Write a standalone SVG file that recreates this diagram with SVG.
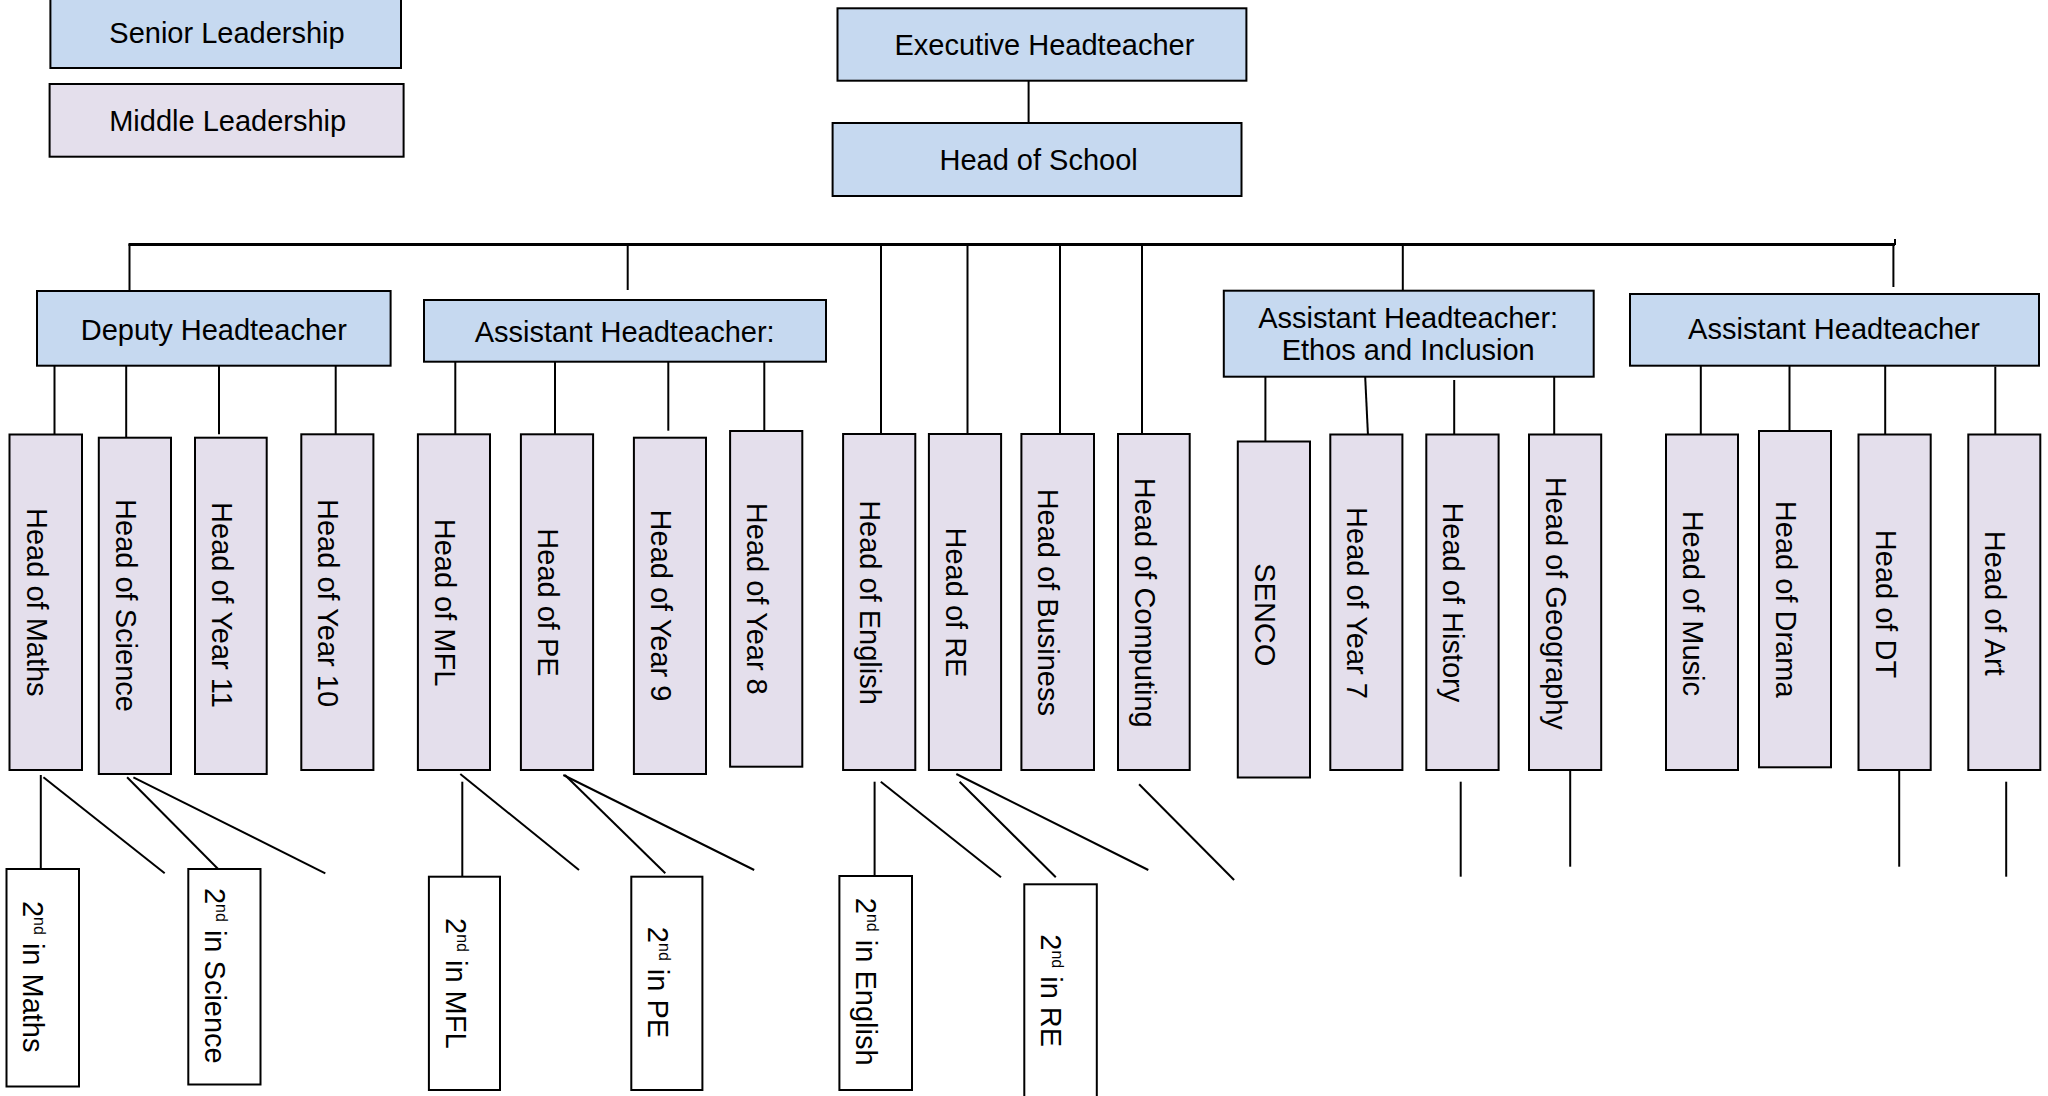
<svg xmlns="http://www.w3.org/2000/svg" width="2048" height="1096" viewBox="0 0 2048 1096">
  <style>
    text { font-family: "Liberation Sans", Arial, sans-serif; font-size: 29px; fill: #000; text-anchor: middle; }
    .senior rect { fill: #c6d9f0; stroke: #000; stroke-width: 2; }
    .middle rect { fill: #e4dfec; stroke: #000; stroke-width: 2; }
    .second rect { fill: #ffffff; stroke: #000; stroke-width: 2; }
    #connectors line, #connectors path { stroke: #000; stroke-width: 2; fill: none; }
    #connectors .bus { stroke-width: 3; }
    .sup { font-size: 16px; }
  </style>
  <rect width="2048" height="1096" fill="#ffffff"/>

  <!-- connectors -->
  <g id="connectors">
    <!-- executive to head of school -->
    <line x1="1028.6" y1="74" x2="1028.6" y2="123"/>
    <!-- main bus -->
    <line class="bus" x1="128.5" y1="244.5" x2="1895" y2="244.5"/>
    <line x1="1895" y1="239" x2="1895" y2="245"/>
    <line x1="129.5" y1="244" x2="129.5" y2="291"/>
    <line x1="627.7" y1="244" x2="627.7" y2="290"/>
    <line x1="881" y1="244" x2="881" y2="434"/>
    <line x1="967.5" y1="244" x2="967.5" y2="434"/>
    <line x1="1060" y1="244" x2="1060" y2="434"/>
    <line x1="1142" y1="244" x2="1142" y2="434"/>
    <line x1="1402.8" y1="244" x2="1402.8" y2="291"/>
    <line x1="1893.4" y1="244" x2="1893.4" y2="287"/>
    <!-- deputy headteacher drops -->
    <line x1="54.5" y1="363" x2="54.5" y2="434.5"/>
    <line x1="126.2" y1="363" x2="126.2" y2="437.7"/>
    <line x1="219" y1="363" x2="219" y2="434.3"/>
    <line x1="335.7" y1="363" x2="335.7" y2="434.3"/>
    <!-- assistant headteacher drops -->
    <line x1="455.3" y1="361" x2="455.3" y2="434.3"/>
    <line x1="555" y1="361" x2="555" y2="434.3"/>
    <line x1="668.3" y1="359" x2="668.3" y2="430.7"/>
    <line x1="764.3" y1="361" x2="764.3" y2="434"/>
    <!-- ethos and inclusion drops -->
    <line x1="1265.4" y1="376.7" x2="1265.4" y2="441.5"/>
    <line x1="1365" y1="373" x2="1368.2" y2="440"/>
    <line x1="1454.2" y1="380" x2="1454.2" y2="434.5"/>
    <line x1="1554.2" y1="369" x2="1554.2" y2="434.5"/>
    <!-- assistant headteacher (right) drops -->
    <line x1="1700.8" y1="362.7" x2="1700.8" y2="434.5"/>
    <line x1="1789.5" y1="359" x2="1789.5" y2="431"/>
    <line x1="1885.2" y1="363" x2="1885.2" y2="434.5"/>
    <line x1="1995.3" y1="366.7" x2="1995.3" y2="437.3"/>
    <!-- second-in-department links -->
    <line x1="40.8" y1="775" x2="40.8" y2="869"/>
    <line x1="43.4" y1="777.3" x2="164.7" y2="873.3"/>
    <line x1="127.1" y1="777.3" x2="222.3" y2="873.3"/>
    <line x1="133.4" y1="777.3" x2="325.3" y2="873.3"/>
    <line x1="462.3" y1="781.7" x2="462.3" y2="876.7"/>
    <line x1="460.3" y1="774" x2="579" y2="870"/>
    <line x1="564.9" y1="775" x2="665.3" y2="873.3"/>
    <line x1="563.3" y1="775" x2="754.2" y2="870"/>
    <line x1="874.6" y1="781.7" x2="874.6" y2="876"/>
    <line x1="880.8" y1="781.7" x2="1001" y2="877.3"/>
    <line x1="959.6" y1="781.7" x2="1055.8" y2="877.3"/>
    <line x1="956.3" y1="774" x2="1148.3" y2="870"/>
    <line x1="1139.1" y1="784.3" x2="1234.1" y2="880"/>
    <line x1="1460.7" y1="781.7" x2="1460.7" y2="876.7"/>
    <line x1="1570.2" y1="770" x2="1570.2" y2="866.7"/>
    <line x1="1899.2" y1="770" x2="1899.2" y2="866.7"/>
    <line x1="2006.2" y1="781.7" x2="2006.2" y2="876.7"/>
  </g>

  <!-- key -->
  <g id="key-senior" class="senior">
    <rect x="50.4" y="-2" width="350.6" height="70"/>
    <text x="227" y="42.7">Senior Leadership</text>
  </g>
  <g id="key-middle" class="middle">
    <rect x="49.6" y="84" width="354" height="72.7"/>
    <text x="227.7" y="131">Middle Leadership</text>
  </g>

  <!-- senior leadership -->
  <g id="executive-headteacher" class="senior">
    <rect x="837.5" y="8.3" width="408.9" height="72.4"/>
    <text x="1044.4" y="55">Executive Headteacher</text>
  </g>
  <g id="head-of-school" class="senior">
    <rect x="832.6" y="123" width="408.9" height="73"/>
    <text x="1038.6" y="170">Head of School</text>
  </g>
  <g id="deputy-headteacher" class="senior">
    <rect x="37" y="291" width="353.6" height="74.7"/>
    <text x="213.8" y="340">Deputy Headteacher</text>
  </g>
  <g id="assistant-headteacher-1" class="senior">
    <rect x="424" y="300" width="402" height="61.7"/>
    <text x="624.7" y="341.7">Assistant Headteacher:</text>
  </g>
  <g id="assistant-headteacher-ethos" class="senior">
    <rect x="1223.8" y="290.7" width="369.9" height="86"/>
    <text x="1408.2" y="328">Assistant Headteacher:</text>
    <text x="1408.2" y="360">Ethos and Inclusion</text>
  </g>
  <g id="assistant-headteacher-2" class="senior">
    <rect x="1630" y="294" width="409" height="71.7"/>
    <text x="1834" y="339">Assistant Headteacher</text>
  </g>

  <!-- middle leadership -->
  <g id="head-of-maths" class="middle">
    <rect x="9.5" y="434.5" width="72.5" height="335.5"/>
    <text transform="translate(26.5,602.3) rotate(90)">Head of Maths</text>
  </g>
  <g id="head-of-science" class="middle">
    <rect x="98.8" y="437.7" width="72.2" height="336.3"/>
    <text transform="translate(115.8,605.5) rotate(90)">Head of Science</text>
  </g>
  <g id="head-of-year-11" class="middle">
    <rect x="195" y="437.7" width="71.7" height="336.3"/>
    <text transform="translate(212,605) rotate(90)">Head of Year 11</text>
  </g>
  <g id="head-of-year-10" class="middle">
    <rect x="301.3" y="434.3" width="72.1" height="335.7"/>
    <text transform="translate(318.3,603) rotate(90)">Head of Year 10</text>
  </g>
  <g id="head-of-mfl" class="middle">
    <rect x="417.9" y="434.3" width="72.1" height="335.7"/>
    <text transform="translate(434.9,602.5) rotate(90)">Head of MFL</text>
  </g>
  <g id="head-of-pe" class="middle">
    <rect x="520.9" y="434.3" width="72.2" height="335.7"/>
    <text transform="translate(537.9,602.5) rotate(90)">Head of PE</text>
  </g>
  <g id="head-of-year-9" class="middle">
    <rect x="633.9" y="437.7" width="72.1" height="336.3"/>
    <text transform="translate(650.9,605.5) rotate(90)">Head of Year 9</text>
  </g>
  <g id="head-of-year-8" class="middle">
    <rect x="730.1" y="431" width="72.2" height="335.7"/>
    <text transform="translate(747.1,598.8) rotate(90)">Head of Year 8</text>
  </g>
  <g id="head-of-english" class="middle">
    <rect x="843.1" y="434" width="72.2" height="336"/>
    <text transform="translate(860.1,602.5) rotate(90)">Head of English</text>
  </g>
  <g id="head-of-re" class="middle">
    <rect x="928.9" y="434" width="72.2" height="336"/>
    <text transform="translate(945.9,602.5) rotate(90)">Head of RE</text>
  </g>
  <g id="head-of-business" class="middle">
    <rect x="1021.4" y="434" width="72.6" height="336"/>
    <text transform="translate(1038.4,602.3) rotate(90)">Head of Business</text>
  </g>
  <g id="head-of-computing" class="middle">
    <rect x="1118" y="434" width="71.7" height="336"/>
    <text transform="translate(1135,602.7) rotate(90)">Head of Computing</text>
  </g>
  <g id="senco" class="middle">
    <rect x="1237.8" y="441.5" width="72.2" height="336"/>
    <text transform="translate(1254.8,614.8) rotate(90)">SENCO</text>
  </g>
  <g id="head-of-year-7" class="middle">
    <rect x="1330.3" y="434.5" width="72.1" height="335.5"/>
    <text transform="translate(1347.3,603) rotate(90)">Head of Year 7</text>
  </g>
  <g id="head-of-history" class="middle">
    <rect x="1426.3" y="434.5" width="72.3" height="335.5"/>
    <text transform="translate(1443.3,602.3) rotate(90)">Head of History</text>
  </g>
  <g id="head-of-geography" class="middle">
    <rect x="1529" y="434.5" width="72.2" height="335.5"/>
    <text transform="translate(1546,603.3) rotate(90)">Head of Geography</text>
  </g>
  <g id="head-of-music" class="middle">
    <rect x="1666" y="434.5" width="72" height="335.5"/>
    <text transform="translate(1683,603.3) rotate(90)">Head of Music</text>
  </g>
  <g id="head-of-drama" class="middle">
    <rect x="1759" y="431" width="72" height="336.3"/>
    <text transform="translate(1776,599.2) rotate(90)">Head of Drama</text>
  </g>
  <g id="head-of-dt" class="middle">
    <rect x="1858.5" y="434.5" width="72.2" height="335.5"/>
    <text transform="translate(1875.5,604) rotate(90)">Head of DT</text>
  </g>
  <g id="head-of-art" class="middle">
    <rect x="1968.3" y="434.5" width="72" height="335.5"/>
    <text transform="translate(1985.3,603.3) rotate(90)">Head of Art</text>
  </g>

  <!-- second in department -->
  <g id="second-in-maths" class="second">
    <rect x="6.5" y="869" width="72.5" height="217.5"/>
    <text transform="translate(23.3,976.7) rotate(90)">2<tspan class="sup" dy="-11">nd</tspan><tspan dy="11"> in Maths</tspan></text>
  </g>
  <g id="second-in-science" class="second">
    <rect x="188.3" y="869" width="72.2" height="215.5"/>
    <text transform="translate(205.1,975.8) rotate(90)">2<tspan class="sup" dy="-11">nd</tspan><tspan dy="11"> in Science</tspan></text>
  </g>
  <g id="second-in-mfl" class="second">
    <rect x="428.9" y="876.7" width="71.1" height="213.3"/>
    <text transform="translate(445.6,983.3) rotate(90)">2<tspan class="sup" dy="-11">nd</tspan><tspan dy="11"> in MFL</tspan></text>
  </g>
  <g id="second-in-pe" class="second">
    <rect x="631.3" y="876.7" width="71.1" height="213.3"/>
    <text transform="translate(648,982.5) rotate(90)">2<tspan class="sup" dy="-11">nd</tspan><tspan dy="11"> in PE</tspan></text>
  </g>
  <g id="second-in-english" class="second">
    <rect x="839.4" y="876" width="72.6" height="214"/>
    <text transform="translate(856.2,981.7) rotate(90)">2<tspan class="sup" dy="-11">nd</tspan><tspan dy="11"> in English</tspan></text>
  </g>
  <g id="second-in-re" class="second">
    <rect x="1024.3" y="884.3" width="72.5" height="220"/>
    <text transform="translate(1041.1,990.7) rotate(90)">2<tspan class="sup" dy="-11">nd</tspan><tspan dy="11"> in RE</tspan></text>
  </g>
</svg>
